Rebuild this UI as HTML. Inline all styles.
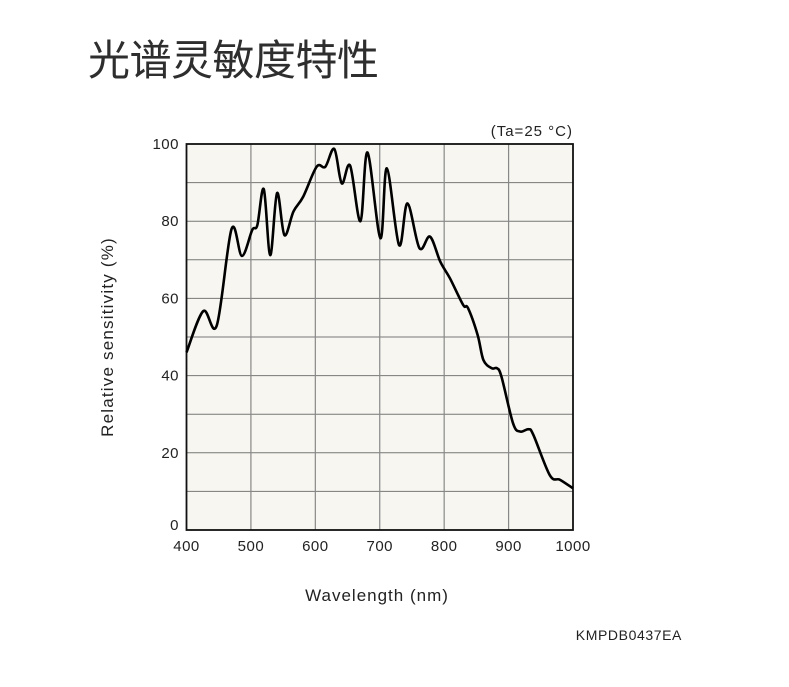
<!DOCTYPE html>
<html><head><meta charset="utf-8"><style>
body{margin:0;background:#fff;width:789px;height:687px;overflow:hidden;font-family:"Liberation Sans","Noto Sans CJK SC",sans-serif}
#title{position:absolute;left:88px;top:32px;font-size:42px;color:#2e2e2e;font-family:"Noto Sans CJK SC",sans-serif;line-height:52px;letter-spacing:-0.5px}
</style></head><body>
<div id="title">光谱灵敏度特性</div>
<svg id="chart" width="789" height="687" style="position:absolute;left:0;top:0" font-family="Liberation Sans, sans-serif"></svg>
<script>
const wavelengths=[400,426,447,470,486,502,510,520,530,540.6,552,566,581,602,615.5,629.5,641,654,670,681,701,711,730,743,761.7,778,794,809,829.5,837,852,861,874,882,889,907,918,931,938.6,964,980,1000];
const sensitivity=[46,56.7,53,78,71,77.7,79,88.3,71.2,87.3,76.4,82.5,86.3,94.1,94.1,98.7,89.8,94.4,80,97.8,75.6,93.7,73.8,84.6,73,76,69.5,65.2,58.3,57.5,50.5,44,41.9,41.9,39.7,27.6,25.5,26.1,24.6,14.2,13,10.8];
const xTicks=[400,500,600,700,800,900,1000];
const yTicks=[0,20,40,60,80,100];
const X0=186.5,X1=573,Y0=530,Y1=144;
const sx=v=>X0+(v-400)/600*(X1-X0);
const sy=v=>Y0-v/100*(Y0-Y1);
const svg=document.getElementById('chart');
const NS='http://www.w3.org/2000/svg';
function mk(t,a,p){const e=document.createElementNS(NS,t);for(const k in a)e.setAttribute(k,a[k]);(p||svg).appendChild(e);return e;}
const bg=mk('rect',{x:X0,y:Y1,width:X1-X0,height:Y0-Y1,fill:'#f7f6f0'});


for(let v=10;v<100;v+=10){const l=mk('line',{x1:X0,x2:X1,y1:sy(v),y2:sy(v),stroke:'#777','stroke-width':1});

}
for(let v=500;v<1000;v+=100){const l=mk('line',{x1:sx(v),x2:sx(v),y1:Y1,y2:Y0,stroke:'#888','stroke-width':1.2});

}
const fr=mk('rect',{x:X0,y:Y1,width:X1-X0,height:Y0-Y1,fill:'none',stroke:'#111','stroke-width':1.8});


xTicks.forEach(v=>{const t=mk('text',{x:sx(v),y:551,'font-size':15,'letter-spacing':0.5,'text-anchor':'middle',fill:'#222'});t.textContent=v;

});
yTicks.forEach(v=>{const t=mk('text',{x:179,y:sy(v)+(v===0?0:5),'font-size':15,'letter-spacing':0.5,'text-anchor':'end',fill:'#222'});t.textContent=v;

});
const pts=wavelengths.map((w,i)=>[sx(w),sy(sensitivity[i])]);
let d='M'+pts[0][0]+','+pts[0][1];
for(let i=0;i<pts.length-1;i++){const p0=pts[i-1]||pts[i],p1=pts[i],p2=pts[i+1],p3=pts[i+2]||p2;
const c1=[p1[0]+(p2[0]-p0[0])/6,p1[1]+(p2[1]-p0[1])/6],c2=[p2[0]-(p3[0]-p1[0])/6,p2[1]-(p3[1]-p1[1])/6];
d+=` C${c1[0]},${c1[1]} ${c2[0]},${c2[1]} ${p2[0]},${p2[1]}`;}
const cv=mk('path',{d:d,fill:'none',stroke:'#000','stroke-width':2.6,'stroke-linejoin':'round'});


const xt=mk('text',{x:377,y:601,'font-size':17,'letter-spacing':1,'text-anchor':'middle',fill:'#222'});xt.textContent='Wavelength (nm)';


const yt=mk('text',{x:0,y:0,'font-size':17,'letter-spacing':1.2,'text-anchor':'middle',fill:'#222',transform:'translate(113,337) rotate(-90)'});yt.textContent='Relative sensitivity (%)';


const tc=mk('text',{x:573,y:136,'font-size':15,'letter-spacing':1,'text-anchor':'end',fill:'#222'});tc.textContent='(Ta=25 °C)';


const cd=mk('text',{x:682,y:640,'font-size':14,'letter-spacing':0.6,'text-anchor':'end',fill:'#222'});cd.textContent='KMPDB0437EA';


</script>
</body></html>
